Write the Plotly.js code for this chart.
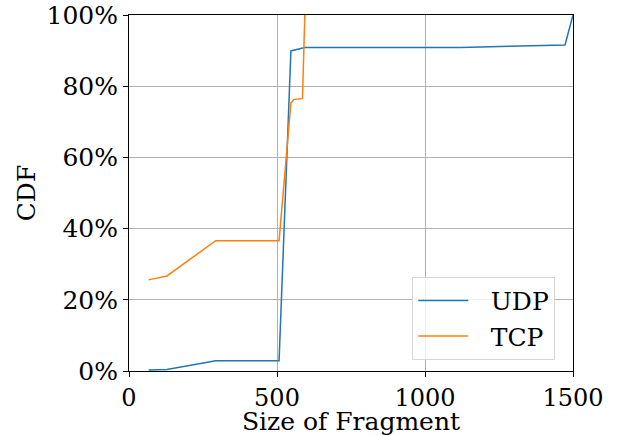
<!DOCTYPE html>
<html>
<head>
<meta charset="utf-8">
<script src="https://cdn.plot.ly/plotly-3.0.1.min.js"></script>
<style>html,body{margin:0;padding:0;background:#fff;}</style>
</head>
<body>
<div id="chart" style="width:628px;height:436px;"></div>
<script>
// Fragment sizes (bytes) and CDF values (%)
const udpSize = [66, 128, 293, 507, 547, 575, 594, 1120, 1350, 1473, 1500];
const udpCdf  = [0.3, 0.4, 2.9, 2.9, 89.9, 90.6, 90.9, 90.9, 91.4, 91.6, 100];
const tcpSize = [66, 128, 293, 507, 547, 558, 586, 594];
const tcpCdf  = [25.6, 26.7, 36.6, 36.6, 75.3, 76.3, 76.5, 100];
const seriesNames = ['UDP', 'TCP'];
const xTicks = [0, 500, 1000, 1500];
const yTicks = [0, 20, 40, 60, 80, 100];

const fontFam = 'DejaVu Serif, serif';
const fs = 25;
const pad = '\u2002\u2009';

const traces = [
  {x: udpSize, y: udpCdf, type: 'scatter', mode: 'lines', name: pad + seriesNames[0],
   line: {color: '#1f77b4', width: 1.5}},
  {x: tcpSize, y: tcpCdf, type: 'scatter', mode: 'lines', name: pad + seriesNames[1],
   line: {color: '#ff7f0e', width: 1.5}}
];

const layout = {
  width: 628, height: 436,
  margin: {l: 129, r: 55, t: 15, b: 65},
  paper_bgcolor: '#ffffff', plot_bgcolor: '#ffffff',
  font: {family: fontFam, size: fs, color: '#000'},
  showlegend: true,
  legend: {x: 0.638, y: 0.265, xanchor: 'left', yanchor: 'top',
           bgcolor: 'rgba(255,255,255,0.8)', bordercolor: '#d6d6d6', borderwidth: 1,
           itemwidth: 50,
           font: {family: fontFam, size: fs, color: '#000'}},
  xaxis: {
    range: [0, 1500], tickvals: xTicks, ticktext: xTicks.map(String),
    showgrid: true, gridcolor: '#b0b0b0', gridwidth: 1, zeroline: false,
    showline: true, linecolor: '#000', linewidth: 1, mirror: true,
    ticks: 'outside', ticklen: 5, tickwidth: 1, tickcolor: '#000',
    tickfont: {family: fontFam, size: 24, color: '#000'},
    title: {text: 'Size of Fragment', font: {family: fontFam, size: fs, color: '#000'}, standoff: 6}
  },
  yaxis: {
    range: [0, 100], tickvals: yTicks, ticktext: yTicks.map(v => v + '%'),
    showgrid: true, gridcolor: '#b0b0b0', gridwidth: 1, zeroline: false,
    showline: true, linecolor: '#000', linewidth: 1, mirror: true,
    ticks: 'outside', ticklen: 5, tickwidth: 1, tickcolor: '#000',
    tickfont: {family: fontFam, size: fs, color: '#000'},
    title: {text: 'CDF', font: {family: fontFam, size: fs, color: '#000'}, standoff: 3}
  }
};

Plotly.newPlot('chart', traces, layout, {displayModeBar: false, staticPlot: true});
</script>
</body>
</html>
